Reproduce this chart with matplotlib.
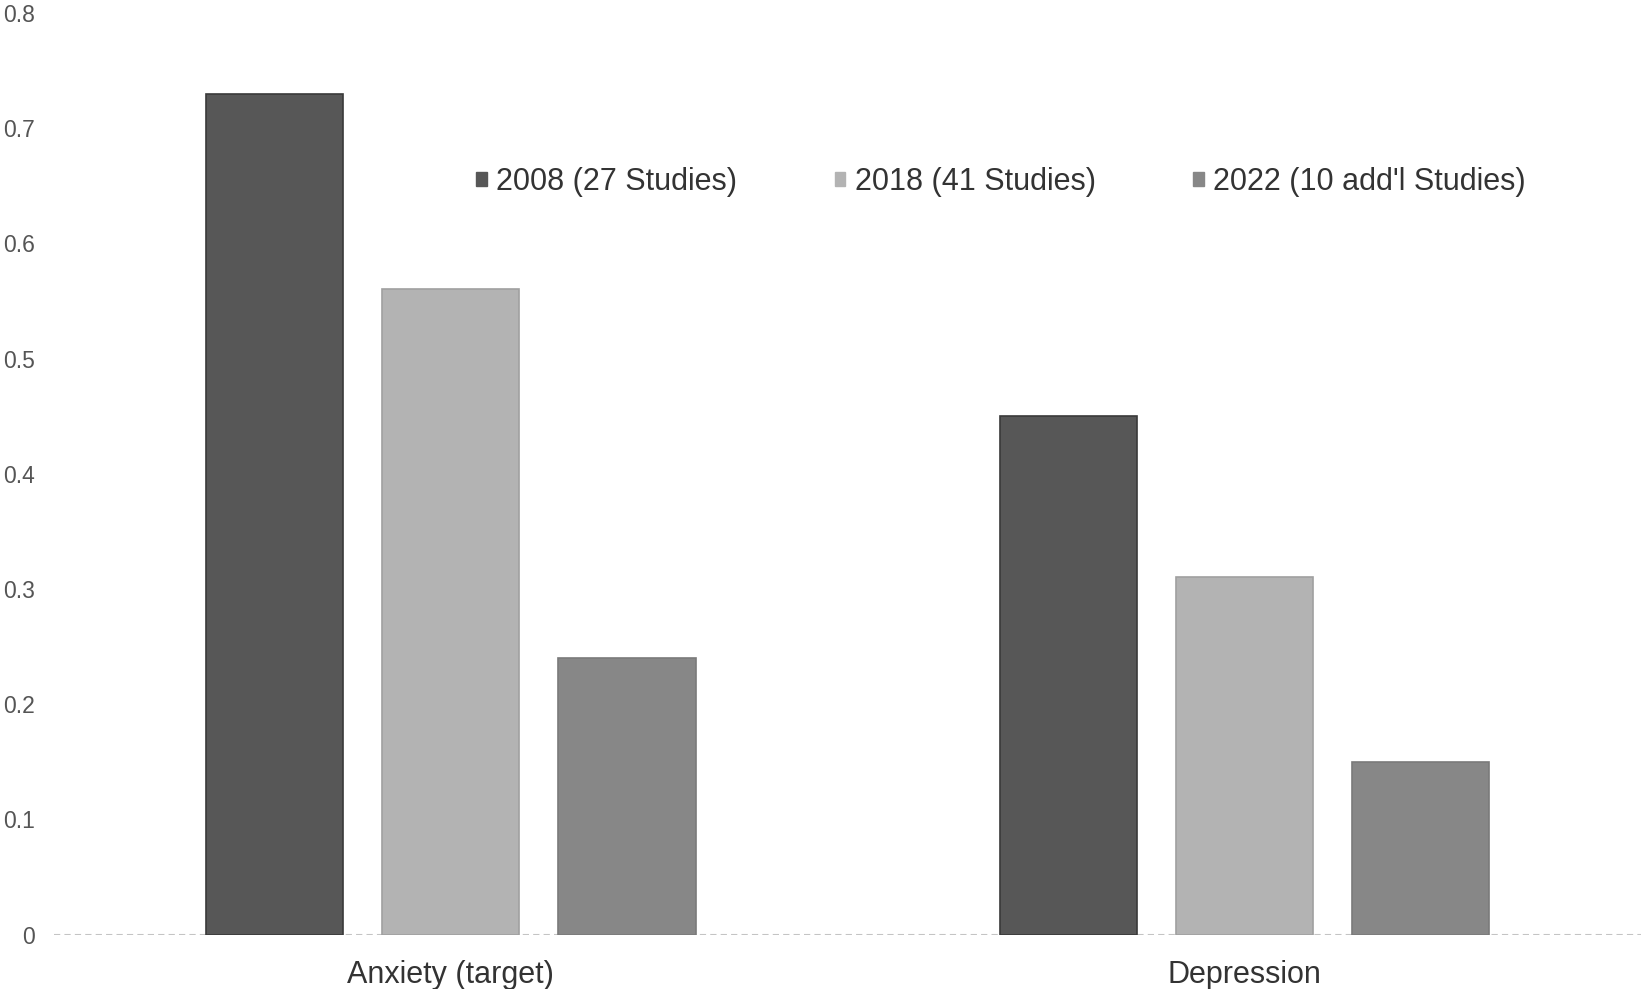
import matplotlib.pyplot as plt
from matplotlib.patches import Patch
import numpy as np

plt.rcParams['font.family'] = ['Liberation Sans', 'DejaVu Sans']

categories = ["Anxiety (target)", "Depression"]
series = ["2008 (27 Studies)", "2018 (41 Studies)", "2022 (10 add'l Studies)"]
values_2008 = [0.73, 0.45]
values_2018 = [0.56, 0.31]
values_2022 = [0.24, 0.15]
yticks = [0, 0.1, 0.2, 0.3, 0.4, 0.5, 0.6, 0.7, 0.8]

colors = ["#575757", "#b3b3b3", "#878787"]
edges = ["#3a3a3a", "#a0a0a0", "#7a7a7a"]

fig = plt.figure(figsize=(16.41, 9.89), dpi=100)
ax = fig.add_axes([0.033, 0.055, 0.967, 0.932])

x = np.arange(len(categories))
width = 0.173
offsets = [-0.222, 0, 0.222]
for vals, off, c, ec in zip([values_2008, values_2018, values_2022], offsets, colors, edges):
    ax.bar(x + off, vals, width, color=c, edgecolor=ec, linewidth=1.2, zorder=3)

ax.axhline(0, color="#c4c4c4", lw=1.5, ls=(0, (3, 2)), zorder=1)

ax.set_xlim(-0.5, 1.5)
ax.set_ylim(0, 0.8)
ax.set_yticks(yticks)
ax.set_yticklabels([("%g" % t) for t in yticks], fontsize=16.5, color="#555555")
ax.set_xticks(x)
ax.set_xticklabels(categories, fontsize=22, color="#333333")
ax.tick_params(axis="both", length=0)
ax.tick_params(axis="y", pad=14)
ax.tick_params(axis="x", pad=18)
for s in ax.spines.values():
    s.set_visible(False)

handles = [Patch(facecolor=c, edgecolor=c) for c in colors]
fig.legend(handles, series, loc="center", bbox_to_anchor=(0.61, 0.816), ncol=3,
           frameon=False, fontsize=22, handlelength=0.35, handleheight=0.35,
           handletextpad=0.3, columnspacing=3.2, labelcolor="#333333")

fig.savefig("out.png", dpi=100)
